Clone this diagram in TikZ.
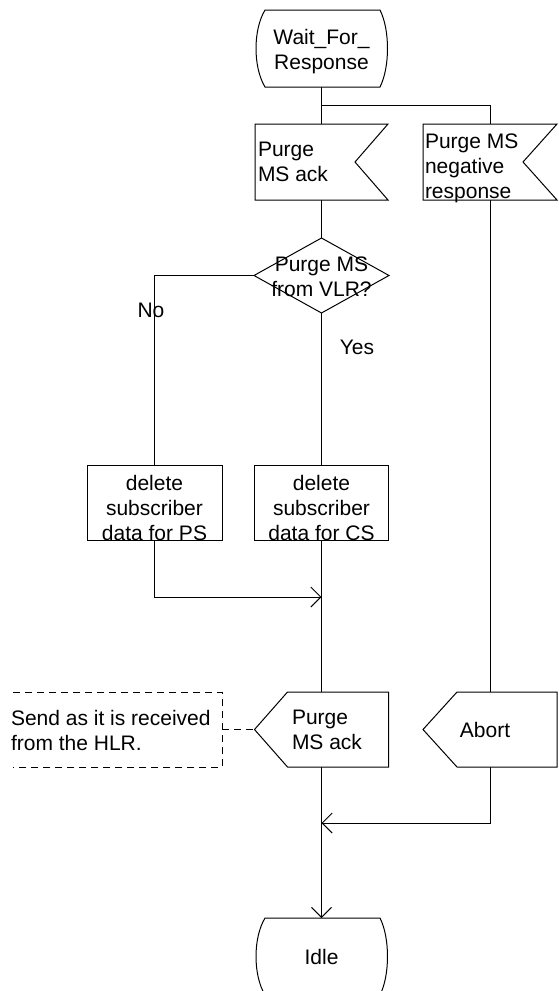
\documentclass[tikz,border=0pt]{standalone}
\usepackage{fontspec}
\setmainfont{Liberation Sans}
\usetikzlibrary{arrows.meta,calc}
\begin{document}
\begin{tikzpicture}[x=1pt,y=-1pt,
  every node/.style={inner sep=0pt, outer sep=0pt},
  lbl/.style={font=\fontsize{21}{25}\selectfont},
  line/.style={line width=1pt, draw=black},
  arr/.style={line, -{Straight Barb[length=10pt,width=20pt,line width=1pt]}},
  shp/.style={line width=1pt, draw=black, fill=white},
  dsh/.style={line width=1pt, draw=black, dash pattern=on 7pt off 5pt},
  holder/.style={minimum width=#1},
]
\useasboundingbox (0,0) rectangle (558,991);

% placeholders (named frames)
\node[minimum width=133pt, minimum height=77pt] (wait) at (321.5,48.5) {};
\node[minimum width=133pt, minimum height=76pt] (ack) at (321.5,162) {};
\node[minimum width=134pt, minimum height=76pt] (neg) at (490,162) {};
\node[minimum width=135pt, minimum height=75pt] (dec) at (321.5,275.5) {};
\node[minimum width=135pt, minimum height=75pt] (ps) at (154.5,502.5) {};
\node[minimum width=134pt, minimum height=75pt] (cs) at (321.5,502.5) {};
\node[minimum width=134pt, minimum height=75pt] (out) at (321.5,729.5) {};
\node[minimum width=134pt, minimum height=75pt] (abort) at (490,729.5) {};
\node[minimum width=209pt, minimum height=75pt] (cmt) at (117.5,729.5) {};
\node[minimum width=133pt, minimum height=77pt] (idle) at (321.5,956.5) {};
\coordinate (split) at (321.5,105);
\coordinate (m1) at (321.5,597);
\coordinate (m2) at (321.5,823);

% connectors
\draw[line] (wait.south) -- (ack.north);
\draw[line] (split) -| (neg.north);
\draw[line] (ack.south) -- (dec.north);
\draw[line] (dec.west) -| (ps.north);
\draw[line] (dec.south) -- (cs.north);
\draw[arr] (ps.south) |- (m1);
\draw[line] (cs.south) -- (out.north);
\draw[line] (neg.south) -- (abort.north);
\draw[arr] (out.south) -- (idle.north);
\draw[arr] (abort.south) |- (m2);
\draw[dsh] (cmt.east) -- (out.west);

% shapes
\draw[shp] ($(wait.north west)+(10,0)$) -- ($(wait.north east)+(-8,0)$)
  .. controls ($(wait.north east)+(2,20)$) and ($(wait.south east)+(2,-20)$) .. ($(wait.south east)+(-8,0)$)
  -- ($(wait.south west)+(10,0)$)
  .. controls ($(wait.south west)+(-2,-20)$) and ($(wait.north west)+(-2,20)$) .. cycle;
\draw[shp] (ack.north west) -- (ack.north east) -- ($(ack.east)+(-33,0)$) -- (ack.south east) -- (ack.south west) -- cycle;
\draw[shp] (neg.north west) -- (neg.north east) -- ($(neg.east)+(-34,0)$) -- (neg.south east) -- (neg.south west) -- cycle;
\draw[shp] (dec.north) -- (dec.east) -- (dec.south) -- (dec.west) -- cycle;
\draw[shp] (ps.north west) rectangle (ps.south east);
\draw[shp] (cs.north west) rectangle (cs.south east);
\draw[shp] ($(out.north west)+(33,0)$) -- (out.north east) -- (out.south east) -- ($(out.south west)+(33,0)$) -- (out.west) -- cycle;
\draw[shp] ($(abort.north west)+(34,0)$) -- (abort.north east) -- (abort.south east) -- ($(abort.south west)+(34,0)$) -- (abort.west) -- cycle;
\draw[dsh] (cmt.north west) -- (cmt.north east) -- (cmt.south east) -- (cmt.south west);
\draw[shp] ($(idle.north west)+(10,0)$) -- ($(idle.north east)+(-8,0)$)
  .. controls ($(idle.north east)+(2,20)$) and ($(idle.south east)+(2,-20)$) .. ($(idle.south east)+(-8,0)$)
  -- ($(idle.south west)+(10,0)$)
  .. controls ($(idle.south west)+(-2,-20)$) and ($(idle.north west)+(-2,20)$) .. cycle;

% texts
\node[lbl, align=center] (waitt) at (321.5,51.5) {Wait\_For\_\\Response};
\node[lbl, align=left, anchor=west] (ackt) at (258,161.5) {Purge\\MS ack};
\node[lbl, align=left, anchor=west] (negt) at (425,168) {Purge MS\\negative\\response};
\node[lbl, align=center] (dect) at (321.5,276.5) {Purge MS\\from VLR?};
\node[lbl] (no) at (151,310) {No};
\node[lbl] (yes) at (357,347) {Yes};
\node[lbl, align=center] (pst) at (154.5,507.5) {delete\\subscriber\\data for PS};
\node[lbl, align=center] (cst) at (321.5,507.5) {delete\\subscriber\\data for CS};
\node[lbl, align=left, anchor=west] (outt) at (292,729.5) {Purge\\MS ack};
\node[lbl] (abortt) at (485,730) {Abort};
\node[lbl, align=left, anchor=west] (cmtt) at (11,730) {Send as it is received\\from the HLR.};
\node[lbl] (idlet) at (321.5,957) {Idle};
\end{tikzpicture}
\end{document}
